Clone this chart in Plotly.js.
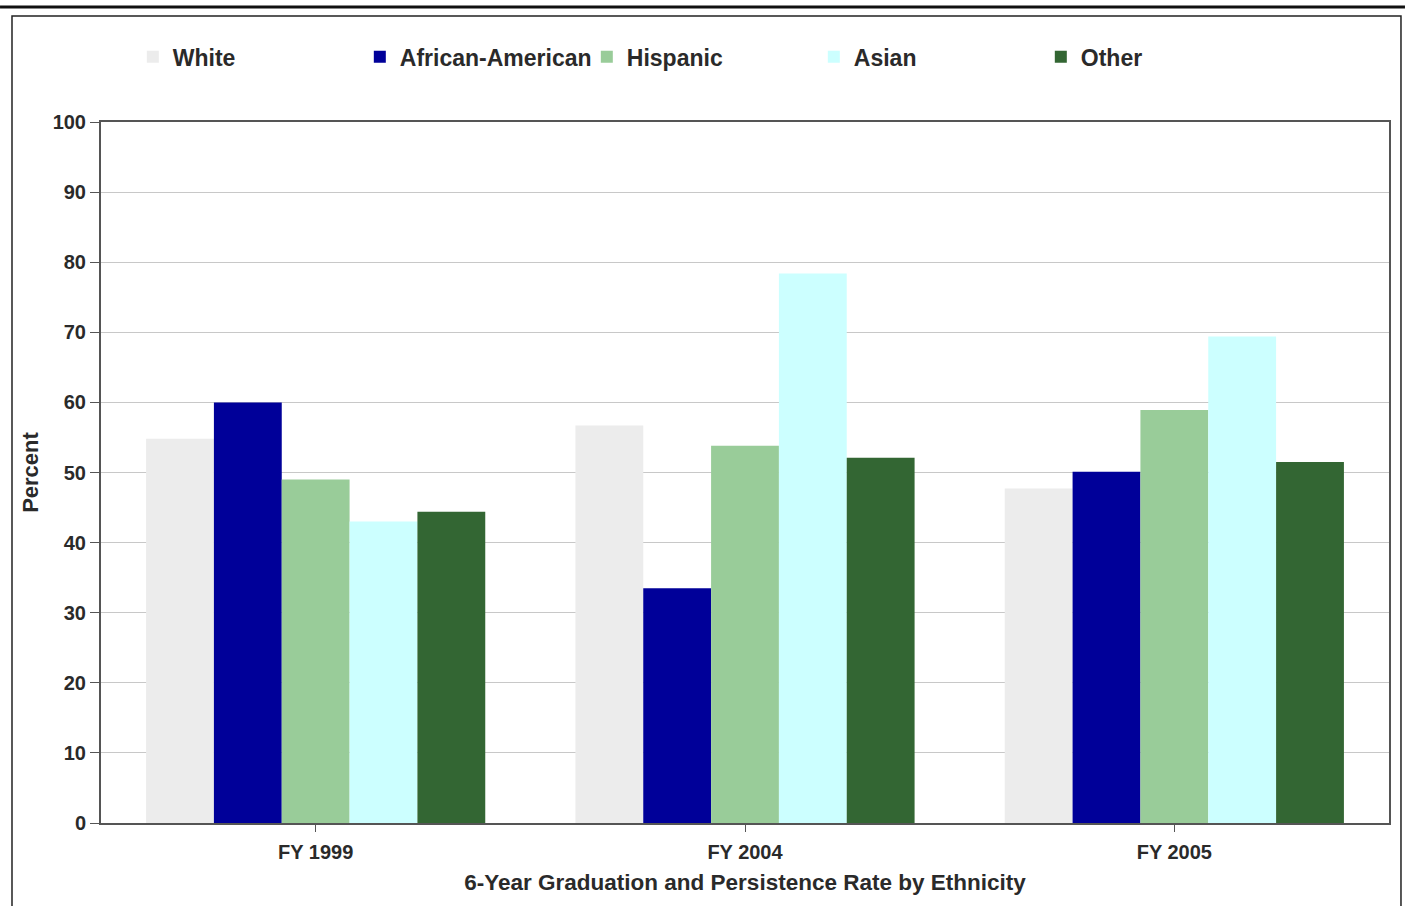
<!DOCTYPE html>
<html>
<head>
<meta charset="utf-8">
<script src="https://cdn.plot.ly/plotly-3.0.1.min.js"></script>
<style>
  html, body { margin: 0; padding: 0; background: #ffffff; }
  #chart { width: 1405px; height: 906px; }
</style>
</head>
<body>
<div id="chart"></div>
<script>
// ---- Data ----
const categories = ["FY 1999", "FY 2004", "FY 2005"];
const seriesNames = ["White", "African-American", "Hispanic", "Asian", "Other"];
const white = [54.8, 56.7, 47.7];
const africanAmerican = [60.0, 33.5, 50.1];
const hispanic = [49.0, 53.8, 58.9];
const asian = [43.0, 78.4, 69.4];
const other = [44.4, 52.1, 51.5];
const yTickValues = [0, 10, 20, 30, 40, 50, 60, 70, 80, 90, 100];

const seriesValues = [white, africanAmerican, hispanic, asian, other];
const seriesColors = ["#ececec", "#000099", "#99cc99", "#ccffff", "#336633"];

const FONT = "Liberation Sans, Arial, sans-serif";
const TXT = "#2a2a2a";

const traces = seriesNames.map((name, i) => ({
  type: "bar",
  name: name,
  x: categories,
  y: seriesValues[i],
  marker: { color: seriesColors[i], line: { width: 0 } },
  hoverinfo: "x+y+name"
}));

const layout = {
  width: 1405,
  height: 906,
  paper_bgcolor: "#ffffff",
  plot_bgcolor: "#ffffff",
  margin: { l: 101, r: 16, t: 122, b: 83, pad: 0 },
  barmode: "group",
  bargap: 0.21,
  bargroupgap: 0,
  font: { family: FONT, size: 20, color: TXT, weight: "bold" },
  showlegend: true,
  legend: {
    orientation: "h",
    x: 0.0247, xanchor: "left",
    y: 1.093, yanchor: "middle",
    font: { family: FONT, size: 23, color: TXT, weight: "bold" },
    entrywidth: 182, entrywidthmode: "pixels",
    itemwidth: 30,
    traceorder: "normal",
    bgcolor: "rgba(0,0,0,0)"
  },
  xaxis: {
    type: "category",
    showline: true, linecolor: "#555555", linewidth: 2, mirror: true,
    ticks: "outside", ticklen: 7, tickcolor: "#555555", tickwidth: 1,
    ticklabelstandoff: 3,
    tickfont: { family: FONT, size: 20, color: TXT, weight: "bold" },
    title: { text: "6-Year Graduation and Persistence Rate by Ethnicity",
             font: { family: FONT, size: 22.5, color: TXT, weight: "bold" }, standoff: 12 },
    showgrid: false
  },
  yaxis: {
    range: [0, 100],
    tickvals: yTickValues,
    ticktext: yTickValues.map(String),
    showline: true, linecolor: "#555555", linewidth: 2, mirror: true,
    ticks: "outside", ticklen: 9, tickcolor: "#555555", tickwidth: 1,
    showgrid: true, gridcolor: "#c8c8c8", gridwidth: 1,
    zeroline: false,
    tickfont: { family: FONT, size: 20, color: TXT, weight: "bold" },
    title: { text: "Percent", font: { family: FONT, size: 22, color: TXT, weight: "bold" }, standoff: 8 }
  },
  shapes: [
    { type: "line", xref: "paper", yref: "paper", x0: -0.0784, x1: 1.0124, y0: 1.1641, y1: 1.1641,
      line: { color: "#111111", width: 3 } },
    { type: "rect", xref: "paper", yref: "paper", x0: -0.0691, x1: 1.0093, y0: -0.2, y1: 1.1512,
      line: { color: "#222222", width: 1.5 }, fillcolor: "rgba(0,0,0,0)", layer: "below" }
  ]
};

Plotly.newPlot("chart", traces, layout, { displayModeBar: false, responsive: false });
</script>
</body>
</html>
